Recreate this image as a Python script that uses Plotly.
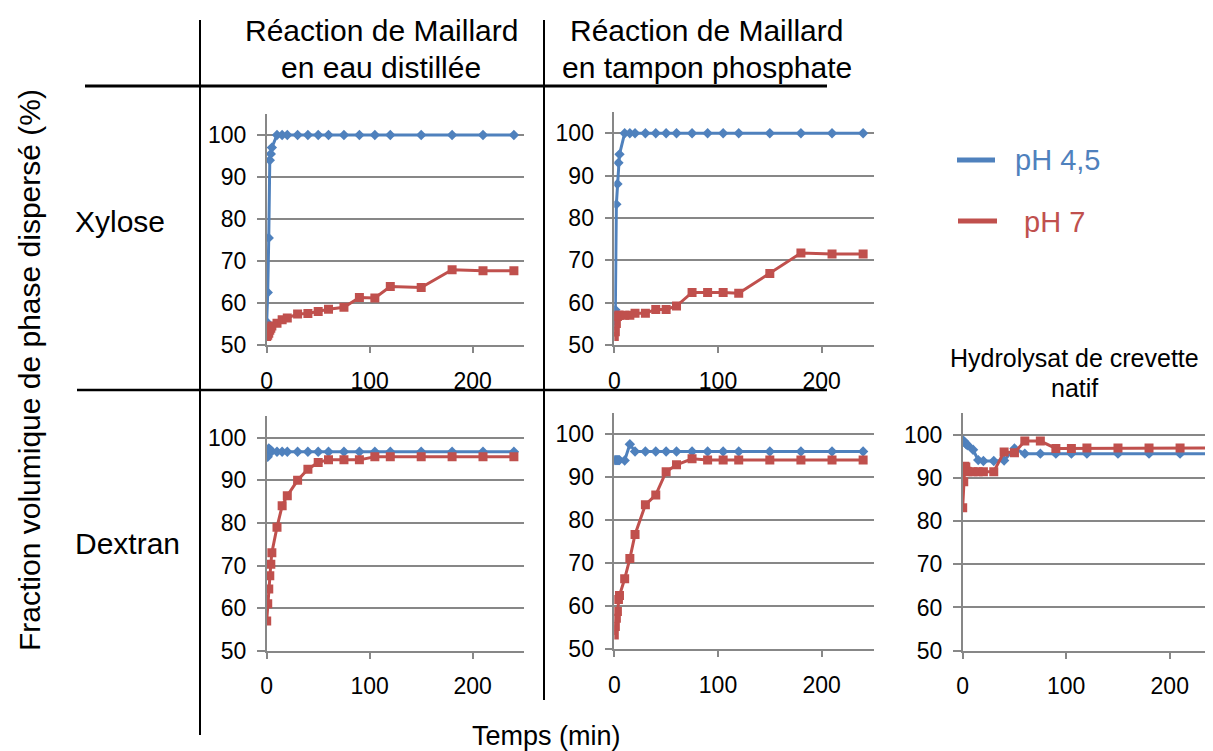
import plotly.graph_objects as go

# sampling times (min), shared by all panels
temps = [0, 1, 2, 3, 4, 5, 10, 15, 20, 30, 40, 50, 60, 75, 90, 105, 120, 150, 180, 210, 240]

# Xylose - Maillard en eau distillée
xyl_eau_ph45 = [55.5, 62.5, 75.5, 94.0, 95.5, 97.0, 100, 100, 100, 100, 100, 100, 100, 100, 100, 100, 100, 100, 100, 100, 100]
xyl_eau_ph7 = [52.0, 52.3, 52.8, 53.5, 54.0, 54.5, 55.2, 56.0, 56.4, 57.4, 57.5, 58.0, 58.5, 59.0, 61.3, 61.2, 63.9, 63.7, 67.9, 67.7, 67.7]

# Xylose - Maillard en tampon phosphate
xyl_tamp_ph45 = [54.7, 58.3, 83.2, 88.0, 93.0, 95.0, 100, 100, 100, 100, 100, 100, 100, 100, 100, 100, 100, 100, 100, 100, 100]
xyl_tamp_ph7 = [52.0, 53.1, 55.1, 56.7, 57.0, 57.0, 57.0, 57.0, 57.5, 57.5, 58.4, 58.4, 59.2, 62.4, 62.4, 62.4, 62.2, 66.9, 71.7, 71.5, 71.5]

# Dextran - Maillard en eau distillée
dex_eau_ph45 = [96.5, 95.5, 97.5, 97.2, 97.0, 96.8, 96.7, 96.7, 96.7, 96.7, 96.7, 96.7, 96.7, 96.7, 96.7, 96.7, 96.7, 96.7, 96.7, 96.7, 96.7]
dex_eau_ph7 = [57.0, 61.0, 64.5, 67.6, 70.3, 73.0, 79.0, 84.0, 86.4, 90.0, 92.6, 94.2, 94.8, 94.8, 94.8, 95.5, 95.5, 95.5, 95.5, 95.5, 95.5]

# Dextran - Maillard en tampon phosphate
dex_tamp_ph45 = [94.0, 94.0, 94.0, 94.0, 94.0, 94.0, 93.9, 97.7, 96.0, 96.0, 96.0, 96.0, 96.0, 96.0, 96.0, 96.0, 96.0, 96.0, 96.0, 96.0, 96.0]
dex_tamp_ph7 = [53.3, 55.3, 57.2, 58.8, 61.6, 62.5, 66.4, 71.1, 76.7, 83.6, 85.9, 91.3, 92.9, 94.3, 94.0, 94.0, 94.0, 94.0, 94.0, 94.0, 94.0]

# Hydrolysat de crevette natif
hydro_ph45 = [98.7, 98.5, 98.2, 97.9, 97.7, 97.5, 96.5, 94.1, 93.9, 93.9, 94.0, 96.8, 95.6, 95.6, 95.6, 95.6, 95.6, 95.6, 95.6, 95.6, 95.6]
hydro_ph7 = [83.1, 89.1, 92.7, 92.5, 91.5, 91.4, 91.4, 91.4, 91.4, 91.4, 96.0, 95.8, 98.5, 98.5, 96.8, 96.8, 96.9, 96.9, 96.9, 96.9, 96.9]

y_ticks = [50, 60, 70, 80, 90, 100]
x_ticks = [0, 100, 200]

# the page body has an 8px margin, so the figure is drawn 8px smaller
OFF = 8
W, H = 1213 - OFF, 751 - OFF
BLUE = '#4F81BD'
RED = '#C0504D'
GRAY = '#878787'
FONT = 'Liberation Sans, Arial, sans-serif'


def px(x):
    return (x - OFF) / W


def py(y):
    return 1 - (y - OFF) / H


# panel boxes in screen pixels: (left, right, top, bottom), x range end
panels = [
    ((266.7, 524.2, 114.0, 345.0), 250, xyl_eau_ph45, xyl_eau_ph7),
    ((614.3, 873.5, 112.0, 345.0), 250, xyl_tamp_ph45, xyl_tamp_ph7),
    ((266.7, 524.2, 416.4, 650.7), 250, dex_eau_ph45, dex_eau_ph7),
    ((614.3, 873.5, 412.8, 649.3), 250, dex_tamp_ph45, dex_tamp_ph7),
    ((962.7, 1213.0, 413.0, 650.7), 241.8, hydro_ph45, hydro_ph7),
]

fig = go.Figure()
layout = {}
for i, (box, xmax, s45, s7) in enumerate(panels):
    n = '' if i == 0 else str(i + 1)
    l, r, t, b = box
    fig.add_trace(go.Scatter(x=temps, y=s45, mode='lines+markers', xaxis='x' + n, yaxis='y' + n,
                             line=dict(color=BLUE, width=3),
                             marker=dict(symbol='diamond', size=8, color=BLUE),
                             showlegend=False))
    fig.add_trace(go.Scatter(x=temps, y=s7, mode='lines+markers', xaxis='x' + n, yaxis='y' + n,
                             line=dict(color=RED, width=3),
                             marker=dict(symbol='square', size=9, color=RED),
                             showlegend=False))
    layout['xaxis' + n] = dict(domain=[px(l), min(px(r), 1)], range=[0, xmax], anchor='y' + n,
                               automargin=False,
                               tickvals=x_ticks, showgrid=False, zeroline=False,
                               showline=True, linecolor=GRAY, linewidth=2,
                               ticks='outside', ticklen=6, tickwidth=1.5, tickcolor=GRAY,
                               ticklabelstandoff=8,
                               tickfont=dict(family=FONT, size=23, color='black'))
    layout['yaxis' + n] = dict(domain=[py(b), py(t)], range=[50, 105], anchor='x' + n,
                               automargin=False,
                               tickvals=y_ticks, showgrid=True, gridcolor=GRAY, gridwidth=2,
                               zeroline=False, showline=True, linecolor=GRAY, linewidth=1.5,
                               ticks='outside', ticklen=8, tickwidth=1.5, tickcolor=GRAY,
                               ticklabelstandoff=6,
                               tickfont=dict(family=FONT, size=23, color='black'))

shapes = []
# black frame lines of the table
for x0, y0, x1, y1, w in [(85, 86, 827, 86, 3), (77, 390, 827, 390, 2.5),
                          (200, 20, 200, 735, 2), (544, 20, 544, 700, 2)]:
    shapes.append(dict(type='line', xref='paper', yref='paper',
                       x0=px(x0), y0=py(y0), x1=px(x1), y1=py(y1),
                       line=dict(color='black', width=w)))
# legend keys
shapes.append(dict(type='line', xref='paper', yref='paper', x0=px(957), x1=px(995),
                   y0=py(160), y1=py(160), line=dict(color=BLUE, width=5)))
shapes.append(dict(type='line', xref='paper', yref='paper', x0=px(958), x1=px(997),
                   y0=py(221), y1=py(221), line=dict(color=RED, width=5)))


def note(text, x, y, size, color='black', angle=0):
    return dict(text=text, x=px(x), y=py(y), xref='paper', yref='paper', showarrow=False,
                xanchor='center', yanchor='middle', textangle=angle,
                font=dict(family=FONT, size=size, color=color))


annotations = [
    note('Réaction de Maillard', 381, 31, 30),
    note('en eau distillée', 381, 67, 30),
    note('Réaction de Maillard', 706, 31, 30),
    note('en tampon phosphate', 707, 67, 30),
    note('Xylose', 120, 222, 30),
    note('Dextran', 128, 543, 30),
    note('Hydrolysat de crevette', 1074, 358, 25),
    note('natif', 1074, 388, 25),
    note('Fraction volumique de phase dispersé (%)', 30, 370, 30, angle=-90),
    note('Temps (min)', 546, 736, 27),
    note('pH 4,5', 1057, 160, 29, BLUE),
    note('pH 7', 1054, 222, 29, RED),
]

fig.update_layout(width=W, height=H, margin=dict(l=0, r=0, t=0, b=0),
                  paper_bgcolor='white', plot_bgcolor='white',
                  shapes=shapes, annotations=annotations, **layout)

fig.write_html("out.html")
